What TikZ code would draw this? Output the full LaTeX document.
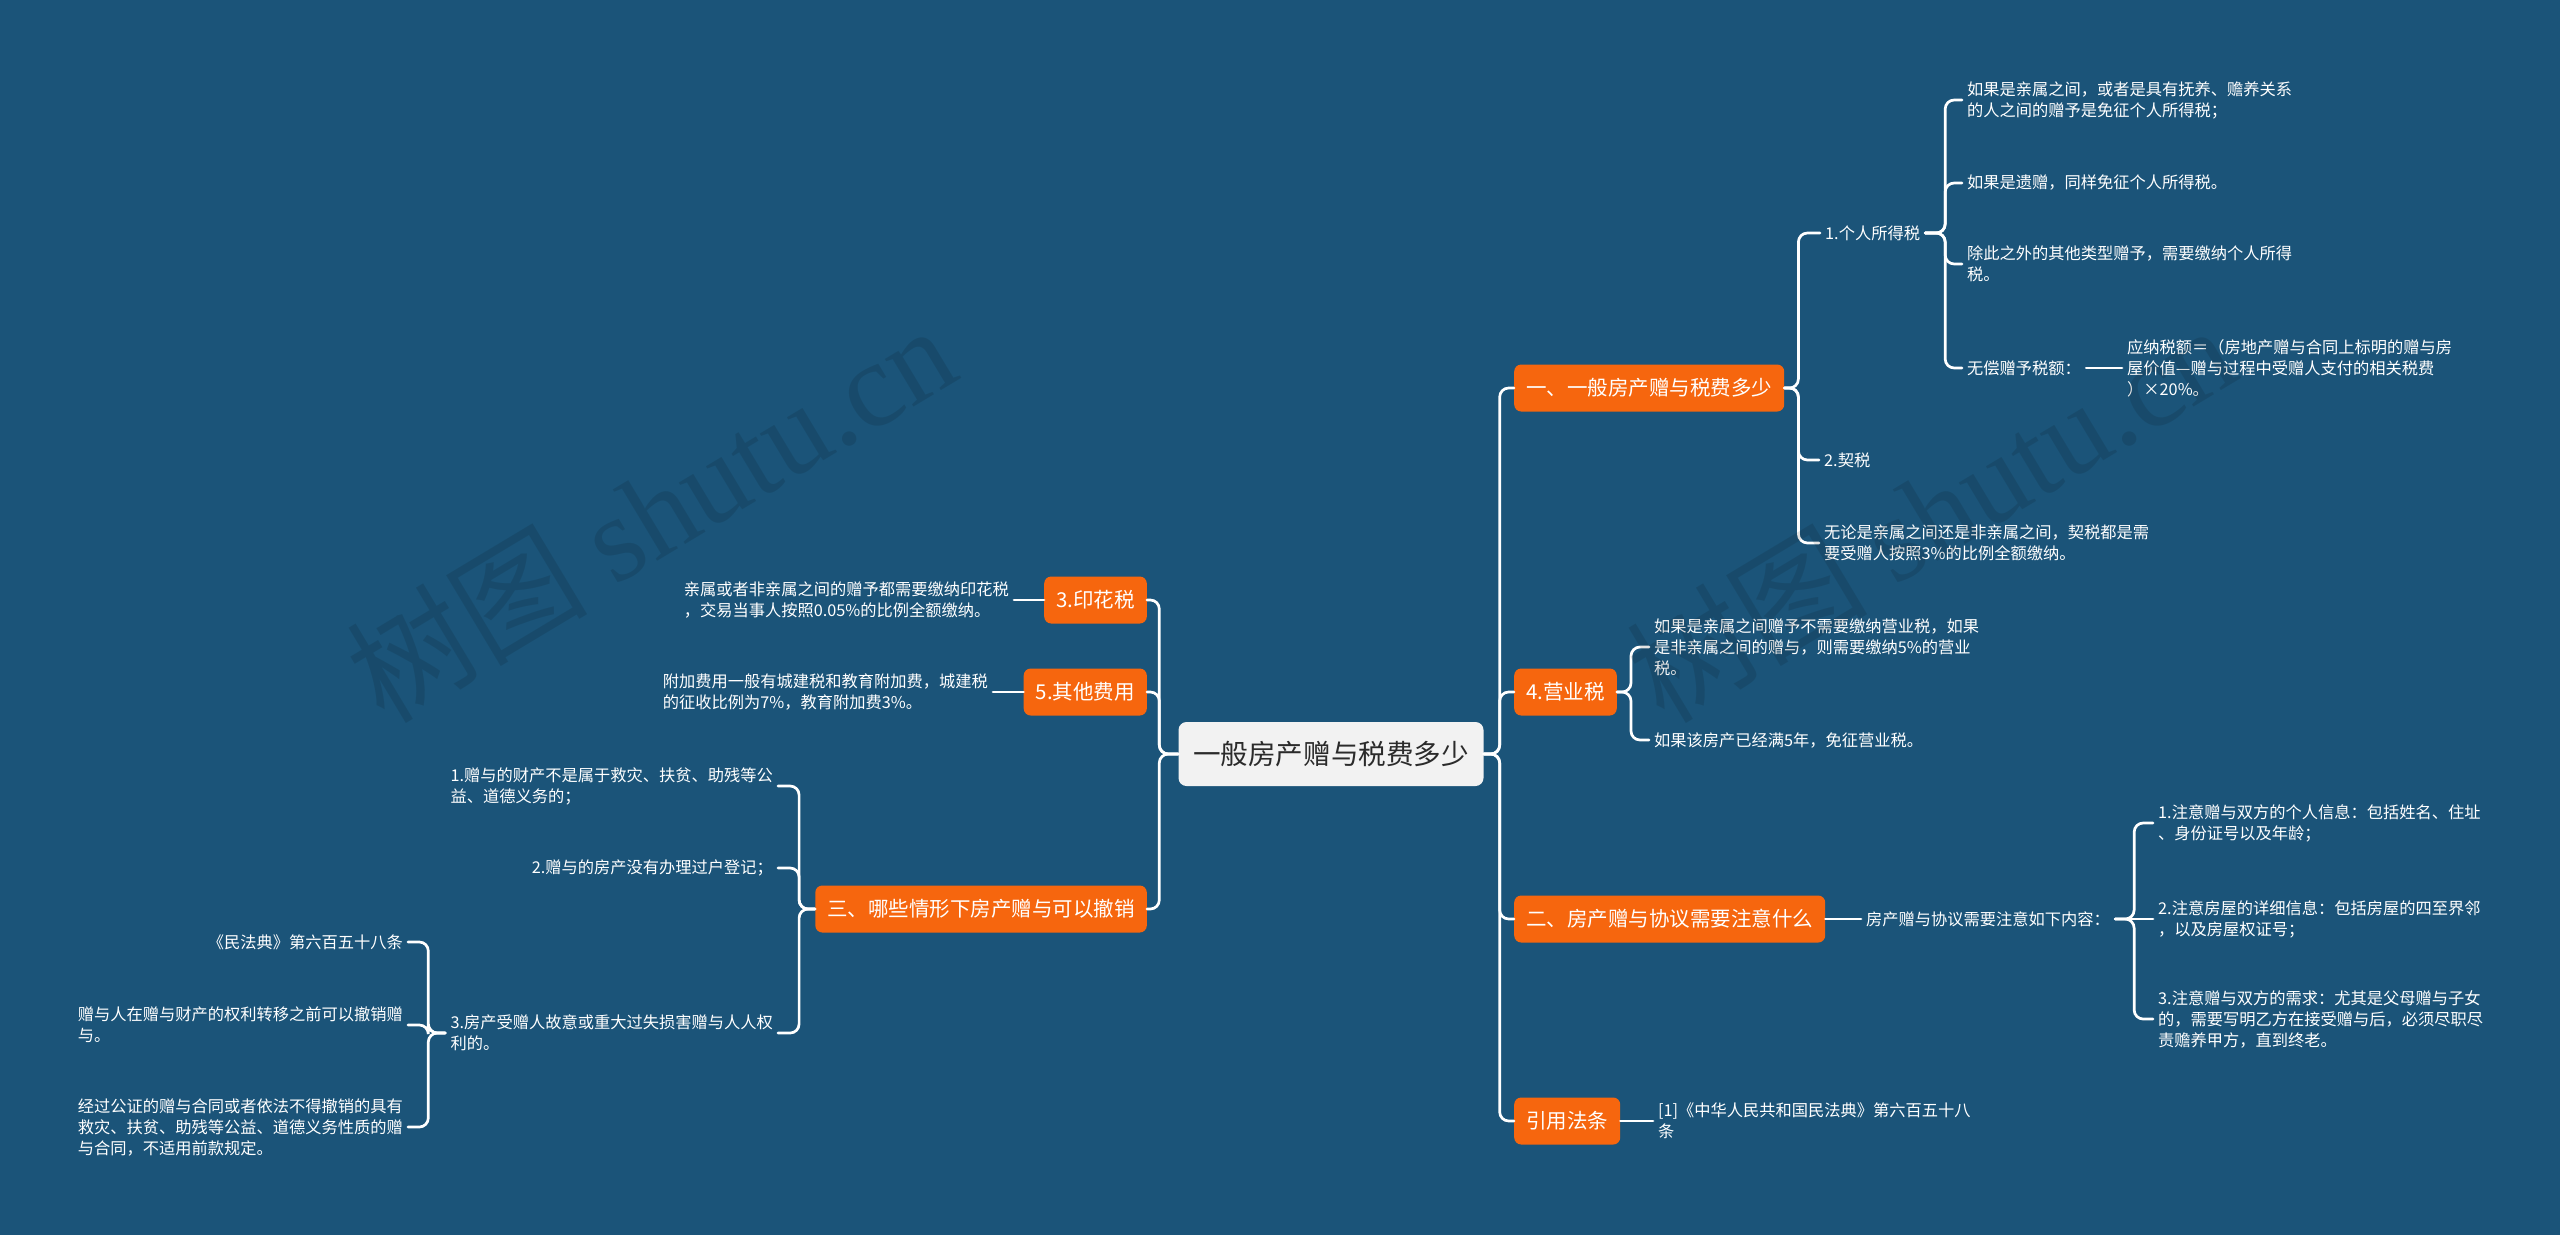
\documentclass[tikz,border=0pt]{standalone}
\usepackage{fontspec}
\setmainfont{Noto Sans CJK SC}
\newfontfamily\wmserif{Liberation Serif}
\definecolor{bg}{HTML}{1B5479}
\definecolor{org}{HTML}{F6660E}
\definecolor{rootfill}{HTML}{F2F2F2}
\definecolor{roottext}{HTML}{2B2B2B}
\begin{document}
\begin{tikzpicture}[x=1pt,y=-1pt,
  rootbox/.style={fill=rootfill, text=roottext, rounded corners=8pt, minimum width=305pt, minimum height=64pt, inner sep=0pt, font=\fontsize{27.6}{33}\selectfont},
  topicbox/.style={fill=org, text=white, rounded corners=7pt, minimum height=47pt, inner xsep=12pt, inner ysep=0pt, font=\fontsize{20.5}{25}\selectfont},
  leaf/.style={text=white, inner xsep=5pt, inner ysep=2pt, align=left, font=\fontsize{16.25}{21}\selectfont},
  conn/.style={draw=white, line width=2.7pt, rounded corners=9pt, line cap=round},
  wmark/.style={text=black, text opacity=0.11, rotate=31, font=\fontsize{121}{128}\selectfont}
]
\useasboundingbox (0,0) rectangle (2560,1235);
\fill[bg] (0,0) rectangle (2560,1235);

% root and main topics
\node[rootbox] (root) at (1331,754) {一般房产赠与税费多少};
\node[topicbox, anchor=west] (b1) at (1514,388) {一、一般房产赠与税费多少};
\node[topicbox, anchor=west] (b4) at (1514,692) {4.营业税};
\node[topicbox, anchor=west] (b2) at (1514,919) {二、房产赠与协议需要注意什么};
\node[topicbox, anchor=west] (bref) at (1514,1121) {引用法条};
\node[topicbox, anchor=east] (l3) at (1147,600) {3.印花税};
\node[topicbox, anchor=east] (l5) at (1147,692) {5.其他费用};
\node[topicbox, anchor=east] (lthree) at (1147,909) {三、哪些情形下房产赠与可以撤销};

% right leaves
\node[leaf, anchor=west] (c11) at (1820,233) {1.个人所得税};
\node[leaf, anchor=west] (c12) at (1819,460) {2.契税};
\node[leaf, anchor=west] (c13) at (1819,543) {无论是亲属之间还是非亲属之间，契税都是需\\要受赠人按照3\%的比例全额缴纳。};
\node[leaf, anchor=west] (c111) at (1962,100) {如果是亲属之间，或者是具有抚养、赡养关系\\的人之间的赠予是免征个人所得税；};
\node[leaf, anchor=west] (c112) at (1962,183) {如果是遗赠，同样免征个人所得税。};
\node[leaf, anchor=west] (c113) at (1962,264) {除此之外的其他类型赠予，需要缴纳个人所得\\税。};
\node[leaf, anchor=west] (c114) at (1962,368) {无偿赠予税额：};
\node[leaf, anchor=west] (c1141) at (2122,368) {应纳税额＝（房地产赠与合同上标明的赠与房\\屋价值—赠与过程中受赠人支付的相关税费\\）×20\%。};
\node[leaf, anchor=west] (c41) at (1649,647) {如果是亲属之间赠予不需要缴纳营业税，如果\\是非亲属之间的赠与，则需要缴纳5\%的营业\\税。};
\node[leaf, anchor=west] (c42) at (1649,740) {如果该房产已经满5年，免征营业税。};
\node[leaf, anchor=west] (c21) at (1861,919) {房产赠与协议需要注意如下内容：};
\node[leaf, anchor=west] (c211) at (2153,823) {1.注意赠与双方的个人信息：包括姓名、住址\\、身份证号以及年龄；};
\node[leaf, anchor=west] (c212) at (2153,919) {2.注意房屋的详细信息：包括房屋的四至界邻\\，以及房屋权证号；};
\node[leaf, anchor=west] (c213) at (2153,1019) {3.注意赠与双方的需求：尤其是父母赠与子女\\的，需要写明乙方在接受赠与后，必须尽职尽\\责赡养甲方，直到终老。};
\node[leaf, anchor=west] (cref) at (1653,1121) {[1]《中华人民共和国民法典》第六百五十八\\条};

% left leaves
\node[leaf, anchor=east] (d3) at (1014,600) {亲属或者非亲属之间的赠予都需要缴纳印花税\\，交易当事人按照0.05\%的比例全额缴纳。};
\node[leaf, anchor=east] (d5) at (993,692) {附加费用一般有城建税和教育附加费，城建税\\的征收比例为7\%，教育附加费3\%。};
\node[leaf, anchor=east] (e1) at (778,786) {1.赠与的财产不是属于救灾、扶贫、助残等公\\益、道德义务的；};
\node[leaf, anchor=east] (e2) at (778,868) {2.赠与的房产没有办理过户登记；};
\node[leaf, anchor=east] (e3) at (778,1033) {3.房产受赠人故意或重大过失损害赠与人人权\\利的。};
\node[leaf, anchor=east] (f1) at (408,942) {《民法典》第六百五十八条};
\node[leaf, anchor=east] (f2) at (408,1025) {赠与人在赠与财产的权利转移之前可以撤销赠\\与。};
\node[leaf, anchor=east] (f3) at (408,1127) {经过公证的赠与合同或者依法不得撤销的具有\\救灾、扶贫、助残等公益、道德义务性质的赠\\与合同，不适用前款规定。};

% connectors
\foreach \c in {b1,b4,b2,bref} \draw[conn] (root.east) -- ++(16,0) |- (\c.west);
\foreach \c in {l3,l5,lthree} \draw[conn] (root.west) -- ++(-19,0) |- (\c.east);
\foreach \c in {c11,c12,c13} \draw[conn] (b1.east) -- ++(14,0) |- (\c.west);
\foreach \c in {c111,c112,c113,c114} \draw[conn] (c11.east) -- ++(20,0) |- (\c.west);
\draw[conn] (c114.east) -- (c1141.west);
\foreach \c in {c41,c42} \draw[conn] (b4.east) -- ++(14,0) |- (\c.west);
\draw[conn] (b2.east) -- (c21.west);
\foreach \c in {c211,c213} \draw[conn] (c21.east) -- ++(19,0) |- (\c.west);
\draw[conn] (c21.east) -- (c212.west);
\draw[conn] (bref.east) -- (cref.west);
\draw[conn] (l3.west) -- (d3.east);
\draw[conn] (l5.west) -- (d5.east);
\foreach \c in {e1,e2,e3} \draw[conn] (lthree.west) -- ++(-16,0) |- (\c.east);
\foreach \c in {f1,f2,f3} \draw[conn] (e3.west) -- ++(-17,0) |- (\c.east);

% watermarks
\node[wmark] (wm1) at (650,512) {树图 {\wmserif shutu.cn}};
\node[wmark] (wm2) at (1930,512) {树图 {\wmserif shutu.cn}};
\end{tikzpicture}
\end{document}
